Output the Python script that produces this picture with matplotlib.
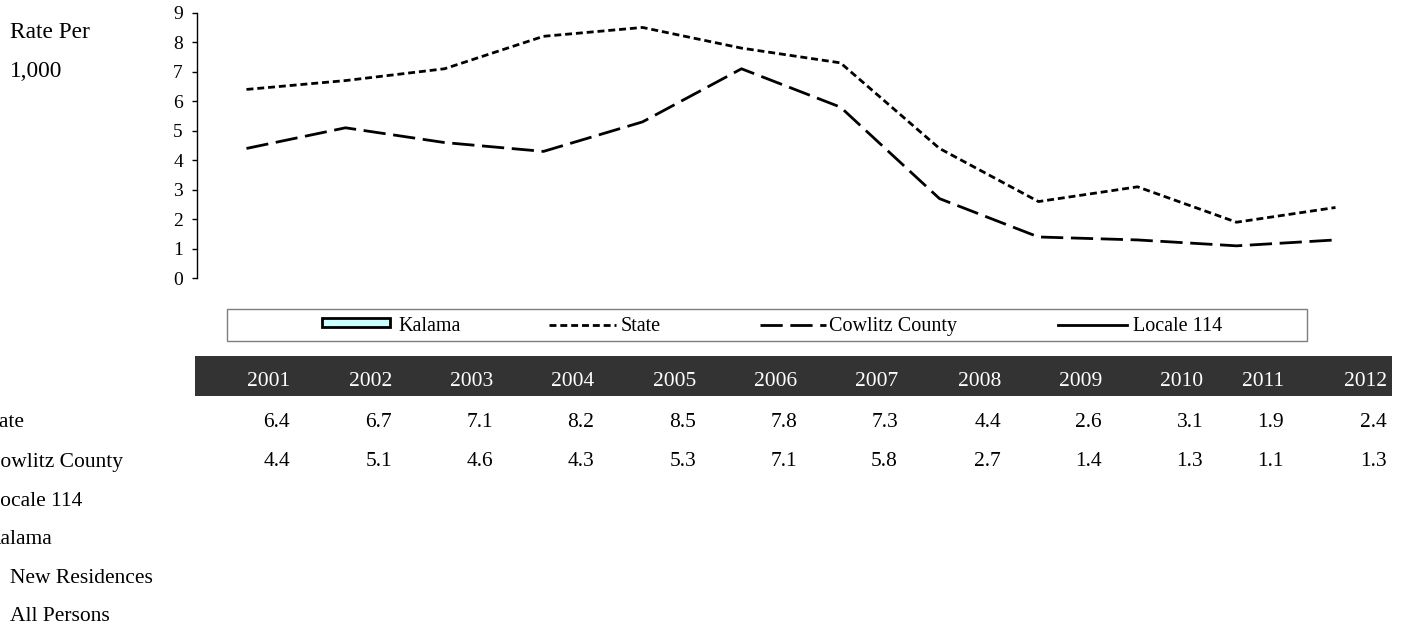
import matplotlib
matplotlib.use("Agg")
import matplotlib.pyplot as plt
from matplotlib.patches import Rectangle
from matplotlib.lines import Line2D
import numpy as np

# ---------------- data ----------------
years = ["2001", "2002", "2003", "2004", "2005", "2006",
         "2007", "2008", "2009", "2010", "2011", "2012"]
state = [6.4, 6.7, 7.1, 8.2, 8.5, 7.8, 7.3, 4.4, 2.6, 3.1, 1.9, 2.4]
cowlitz = [4.4, 5.1, 4.6, 4.3, 5.3, 7.1, 5.8, 2.7, 1.4, 1.3, 1.1, 1.3]
locale114 = [np.nan] * 12
kalama = [np.nan] * 12
row_labels = ["State", "Cowlitz County", "Locale 114", "Kalama",
              "New Residences", "All Persons"]
y_ticks = list(range(0, 10))

# ---------------- layout helpers ----------------
W, H = 1406, 629
plt.rcParams['font.family'] = ['Liberation Serif', 'DejaVu Serif']
plt.rcParams['lines.scale_dashes'] = False

fig = plt.figure(figsize=(W / 100, H / 100), dpi=100)

def fx(x):
    return x / W

def fy(y):
    return 1 - y / H

# ---------------- chart ----------------
ax_l, ax_r, ax_t, ax_b = 197, 1385, 12.7, 278.3
ax = fig.add_axes([fx(ax_l), fy(ax_b), (ax_r - ax_l) / W, (ax_b - ax_t) / H])
x = np.arange(len(years))

STATE_DASH = (0, (5, 2.8))
COUNTY_DASH = (0, (16, 5.5))
LW = 2.0

ax.bar(x, kalama, width=0.6, color='#CCFFFF', edgecolor='black', linewidth=2)
ax.plot(x, state, color='black', lw=LW, linestyle=STATE_DASH, dash_capstyle='butt')
ax.plot(x, cowlitz, color='black', lw=LW, linestyle=COUNTY_DASH, dash_capstyle='butt')
ax.plot(x, locale114, color='black', lw=LW, linestyle='-')

ax.set_xlim(-0.5, len(years) - 0.5)
ax.set_ylim(0, 9)
ax.set_yticks(y_ticks)
ax.set_xticks([])
for s in ['top', 'right', 'bottom']:
    ax.spines[s].set_visible(False)
ax.spines['left'].set_linewidth(1.0)
ax.tick_params(axis='y', direction='out', length=3.6, width=1.0, pad=6.5,
               labelsize=14, colors='black')
ax.patch.set_alpha(0)

fig.text(fx(10), fy(38), "Rate Per", fontsize=16.8, ha='left', va='baseline')
fig.text(fx(10), fy(77), "1,000", fontsize=16.8, ha='left', va='baseline')

# ---------------- overlay (legend + table) ----------------
ov = fig.add_axes([0, 0, 1, 1])
ov.set_xlim(0, W)
ov.set_ylim(H, 0)
ov.axis('off')
ov.patch.set_alpha(0)

# legend box
ov.add_patch(Rectangle((227, 309), 1307 - 227, 341 - 309, fill=False,
                       edgecolor='#7f7f7f', lw=1.0))
leg_base = 331
LFS = 14.5
ov.add_patch(Rectangle((322, 317.5), 68, 9, facecolor='#CCFFFF',
                       edgecolor='black', lw=2))
ov.text(398, leg_base, "Kalama", fontsize=LFS, ha='left', va='baseline')
ov.add_line(Line2D([549, 616], [325, 325], color='black', lw=LW,
                   linestyle=STATE_DASH, dash_capstyle='butt'))
ov.text(621, leg_base, "State", fontsize=LFS, ha='left', va='baseline')
ov.add_line(Line2D([760, 826], [325, 325], color='black', lw=LW,
                   linestyle=COUNTY_DASH, dash_capstyle='butt'))
ov.text(829, leg_base, "Cowlitz County", fontsize=LFS, ha='left', va='baseline')
ov.add_line(Line2D([1058, 1127], [325, 325], color='black', lw=LW))
ov.text(1133, leg_base, "Locale 114", fontsize=LFS, ha='left', va='baseline')

# table header band
ov.add_patch(Rectangle((195, 356), 1392 - 195, 396 - 356,
                       facecolor='#333333', edgecolor='none'))
col_right = [290, 392, 493, 594, 696, 797, 898, 1001, 1102, 1203, 1284, 1387]
TFS = 15.5
for xr, yr in zip(col_right, years):
    ov.text(xr, 386.5, yr, fontsize=TFS, color='white', ha='right', va='baseline')
for xr, v in zip(col_right, state):
    ov.text(xr, 427, f"{v:.1f}", fontsize=TFS, ha='right', va='baseline')
for xr, v in zip(col_right, cowlitz):
    ov.text(xr, 466, f"{v:.1f}", fontsize=TFS, ha='right', va='baseline')

# row labels (left side is cut off by the figure edge, as in the original)
row_x = [-18, -14, -13, -15, 10, 10]
row_base = [427, 467, 506, 544, 583, 621]
for lab, xl, yb in zip(row_labels, row_x, row_base):
    ov.text(xl, yb, lab, fontsize=TFS, ha='left', va='baseline')

fig.savefig("out.png", dpi=100)
